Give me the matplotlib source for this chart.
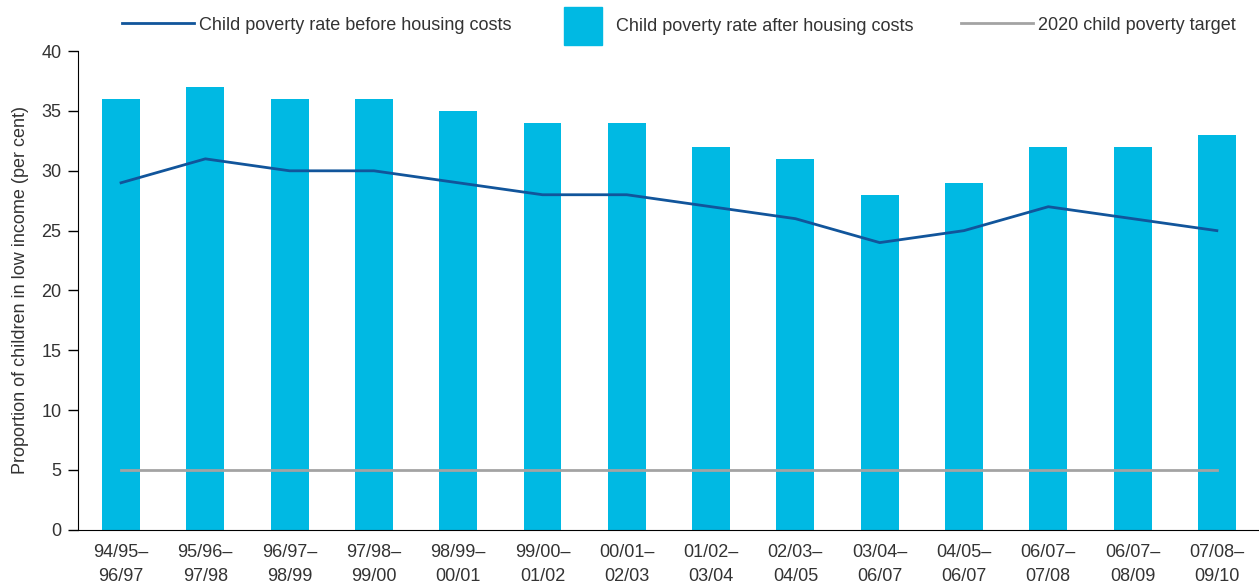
import matplotlib.pyplot as plt
from matplotlib.lines import Line2D
from matplotlib.patches import Patch

periods = [
    "94/95–\n96/97", "95/96–\n97/98", "96/97–\n98/99", "97/98–\n99/00",
    "98/99–\n00/01", "99/00–\n01/02", "00/01–\n02/03", "01/02–\n03/04",
    "02/03–\n04/05", "03/04–\n06/07", "04/05–\n06/07", "06/07–\n07/08",
    "06/07–\n08/09", "07/08–\n09/10",
]
after_housing = [36, 37, 36, 36, 35, 34, 34, 32, 31, 28, 29, 32, 32, 33]
before_housing = [29, 31, 30, 30, 29, 28, 28, 27, 26, 24, 25, 27, 26, 25]
target_2020 = 5

BAR = "#00b9e3"
LINE = "#11559b"
GREY = "#a3a3a3"
TXT = "#333333"

plt.rcParams["font.family"] = ["Liberation Sans", "DejaVu Sans"]
plt.rcParams["font.size"] = 13

fig = plt.figure(figsize=(12.59, 5.88), dpi=100)
ax = fig.add_axes([0.062, 0.099, 0.938, 0.814])

x = list(range(len(periods)))
ax.bar(x, after_housing, width=0.45, color=BAR, zorder=1)
ax.plot(x, before_housing, color=LINE, lw=2, zorder=3)
ax.plot([x[0], x[-1]], [target_2020, target_2020], color=GREY, lw=2, zorder=2)

ax.set_xlim(-0.51, len(periods) - 0.5)
ax.set_ylim(0, 40)
ax.set_yticks(range(0, 41, 5))
ax.set_xticks(x)
ax.set_xticklabels(periods, linespacing=1.6, color=TXT)
ax.tick_params(axis="x", length=0, pad=10)
ax.tick_params(axis="y", length=7, width=1, pad=5, labelcolor=TXT)
ax.spines["top"].set_visible(False)
ax.spines["right"].set_visible(False)
ax.set_ylabel("Proportion of children in low income (per cent)", color=TXT, labelpad=9)

# legend entries spaced like the original
leg_kw = dict(loc="center left", frameon=False, borderpad=0, borderaxespad=0, labelcolor=TXT)
fig.legend(
    handles=[Line2D([], [], color=LINE, lw=2)],
    labels=["Child poverty rate before housing costs"],
    bbox_to_anchor=(0.097, 0.957), handlelength=4.0, handletextpad=0.28, **leg_kw,
)
fig.legend(
    handles=[Patch(color=BAR)],
    labels=["Child poverty rate after housing costs"],
    bbox_to_anchor=(0.448, 0.956), handlelength=2.1, handleheight=2.86,
    handletextpad=0.78, **leg_kw,
)
fig.legend(
    handles=[Line2D([], [], color=GREY, lw=2)],
    labels=["2020 child poverty target"],
    bbox_to_anchor=(0.763, 0.957), handlelength=4.0, handletextpad=0.28, **leg_kw,
)

fig.savefig("out.png", dpi=100)
